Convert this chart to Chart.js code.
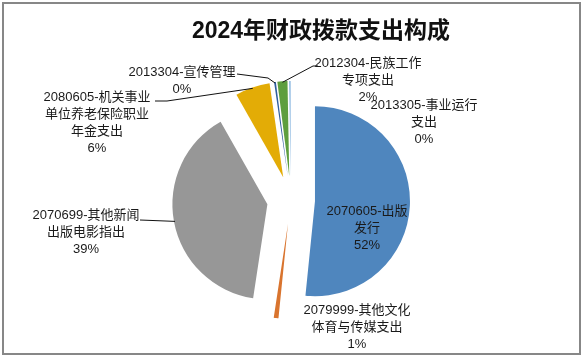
<!DOCTYPE html>
<html><head><meta charset="utf-8">
<script src="https://cdn.jsdelivr.net/npm/chart.js@4"></script>
<style>html,body{margin:0;padding:0;background:#fff;}#wrap{width:585px;height:358px;position:relative;}</style>
</head><body><div id="wrap"><canvas id="c" width="585" height="358"></canvas></div>
<script>
const chartTitle = '2024年财政拨款支出构成';
const categories = ['2070605-出版发行', '2079999-其他文化体育与传媒支出', '2070699-其他新闻出版电影指出', '2080605-机关事业单位养老保险职业年金支出', '2013304-宣传管理', '2012304-民族工作专项支出', '2013305-事业运行支出'];
const values = [51.6, 0.8, 39.4, 5.9, 0.3, 1.7, 0.3];
const labelLines = [['2070605-出版', '发行'], ['2079999-其他文化', '体育与传媒支出'], ['2070699-其他新闻', '出版电影指出'], ['2080605-机关事业', '单位养老保险职业', '年金支出'], ['2013304-宣传管理'], ['2012304-民族工作', '专项支出'], ['2013305-事业运行', '支出']];
const colors = ['#4F86BE', '#D9742E', '#979797', '#E3AC06', '#2F5E9E', '#5E9E3E', '#9DC3E6'];

// layout
const EXPLODE = 24;
const labelPos = [
  {x: 367, y: 211, leader: null},
  {x: 357, y: 310, leader: null},
  {x: 86, y: 215, leader: [[140, 220]]},
  {x: 97, y: 97, leader: [[155, 101], [167, 101]]},
  {x: 182, y: 72, leader: [[237, 74], [268, 78]]},
  {x: 368, y: 63, leader: [[318, 66], [313, 66]]},
  {x: 424, y: 105, leader: null}
];
const LINE_H = 17.2;
const LABEL_FONT = "13px 'Liberation Sans', 'Noto Sans CJK SC', sans-serif";
const TITLE_FONT = "bold 23px 'Liberation Sans', 'Noto Sans CJK SC', sans-serif";

const explode = {
  id: 'explode',
  afterDatasetsUpdate(chart) {
    chart.getDatasetMeta(0).data.forEach(el => {
      const mid = (el.startAngle + el.endAngle) / 2;
      el.x += Math.cos(mid) * EXPLODE;
      el.y += Math.sin(mid) * EXPLODE;
    });
  }
};

const decor = {
  id: 'decor',
  beforeDraw(chart) {
    const ctx = chart.ctx;
    ctx.save();
    ctx.fillStyle = '#fff';
    ctx.fillRect(0, 0, chart.width, chart.height);
    ctx.strokeStyle = '#878787';
    ctx.lineWidth = 2;
    ctx.strokeRect(3, 3, 577, 351);
    ctx.restore();
  },
  afterDraw(chart) {
    const ctx = chart.ctx;
    const meta = chart.getDatasetMeta(0);
    const data = chart.data.datasets[0].data;
    const total = data.reduce((a, b) => a + b, 0);
    ctx.save();
    ctx.fillStyle = '#111';
    ctx.font = TITLE_FONT;
    ctx.textAlign = 'center';
    ctx.textBaseline = 'middle';
    ctx.fillText(chartTitle, 321, 32);
    ctx.strokeStyle = '#111';
    ctx.lineWidth = 1;
    meta.data.forEach((el, i) => {
      const lp = labelPos[i];
      if (!lp.leader) return;
      const mid = (el.startAngle + el.endAngle) / 2;
      const r = el.outerRadius - 1;
      const ex = el.x + Math.cos(mid) * r, ey = el.y + Math.sin(mid) * r;
      ctx.beginPath();
      ctx.moveTo(lp.leader[0][0], lp.leader[0][1]);
      for (let k = 1; k < lp.leader.length; k++) ctx.lineTo(lp.leader[k][0], lp.leader[k][1]);
      ctx.lineTo(ex, ey);
      ctx.stroke();
    });
    ctx.font = LABEL_FONT;
    ctx.fillStyle = '#1a1a1a';
    data.forEach((v, i) => {
      const lp = labelPos[i];
      const lines = labelLines[i].concat([Math.round(v / total * 100) + '%']);
      lines.forEach((t, k) => ctx.fillText(t, lp.x, lp.y + k * LINE_H));
    });
    ctx.restore();
  }
};

new Chart(document.getElementById('c'), {
  type: 'pie',
  data: {
    labels: categories,
    datasets: [{
      data: values,
      backgroundColor: colors,
      borderWidth: 0,
      clip: false
    }]
  },
  options: {
    responsive: false,
    devicePixelRatio: 1,
    animation: false,
    layout: {padding: {left: 0, right: 3, top: 105, bottom: 63}},
    plugins: {legend: {display: false}, tooltip: {enabled: false}, title: {display: false}}
  },
  plugins: [explode, decor]
});
</script></body></html>
